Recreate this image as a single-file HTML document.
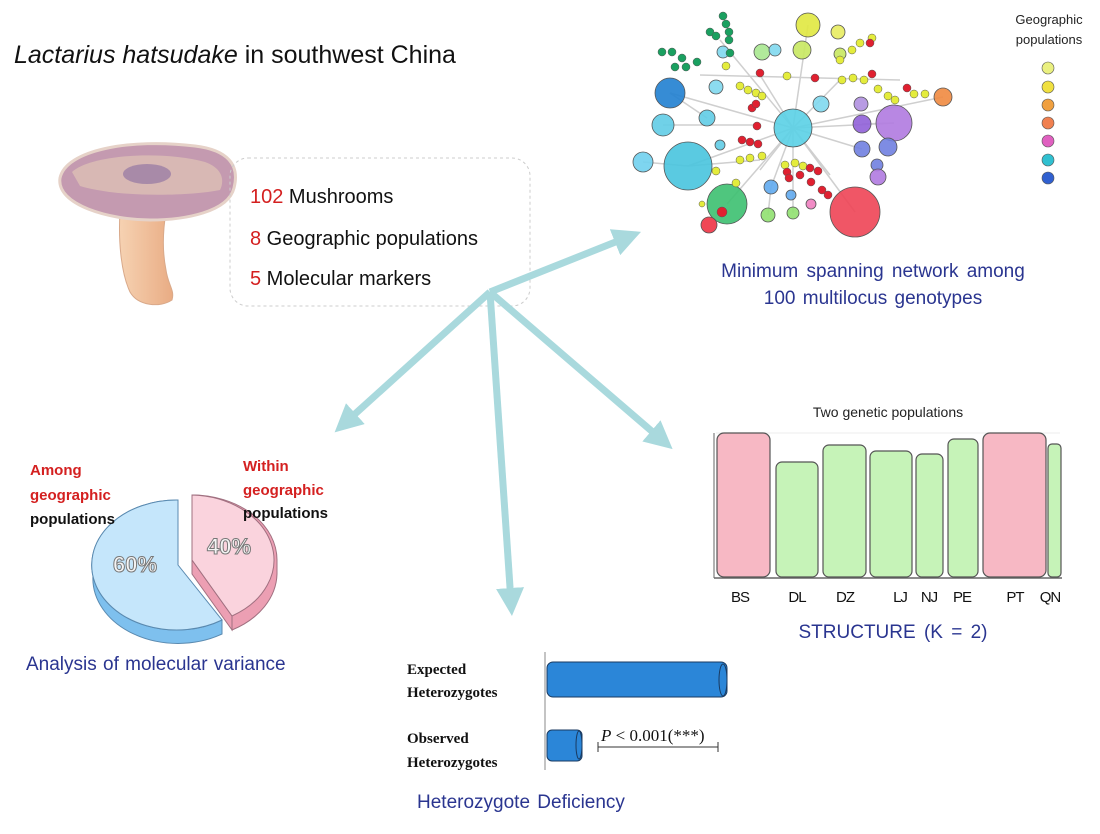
<!DOCTYPE html>
<html><head><meta charset="utf-8"><style>
body{margin:0;background:#fff;width:1100px;height:834px;overflow:hidden}
svg{display:block}
.sans{font-family:"Liberation Sans",sans-serif}
.serif{font-family:"Liberation Serif",serif}
</style></head><body>
<svg width="1100" height="834" viewBox="0 0 1100 834" xmlns="http://www.w3.org/2000/svg" class="sans">
<defs>
<marker id="ah" markerWidth="4" markerHeight="4" refX="2" refY="2" orient="auto" markerUnits="strokeWidth">
<path d="M0,0 L4,2 L0,4 z" fill="#a9d9dd"/></marker>
<linearGradient id="stem" x1="0" x2="1"><stop offset="0" stop-color="#f6d2b2"/><stop offset="1" stop-color="#e9ac84"/></linearGradient>
</defs>

<text x="14" y="63" font-size="25" fill="#111"><tspan font-style="italic">Lactarius hatsudake</tspan> in southwest China</text>

<!-- mushroom -->
<path d="M120,212 C118,245 122,275 130,292 C138,306 160,308 172,300 C175,290 168,285 166,270 C162,250 163,230 166,212 Z" fill="url(#stem)" stroke="#d9a98a"/>
<path d="M60,178 C66,150 130,138 195,146 C228,150 240,165 234,188 C228,212 185,220 150,220 C110,220 56,205 60,178 Z" fill="#c49ab0" stroke="#e6d2c8" stroke-width="3"/>
<path d="M72,172 C90,155 160,150 205,162 C222,168 225,180 220,190 C190,196 120,198 80,186 Z" fill="#d8b8b4"/>
<ellipse cx="147" cy="174" rx="24" ry="10" fill="#a88aa8"/>

<rect x="230" y="158" width="300" height="148" rx="18" fill="none" stroke="#ccc" stroke-dasharray="3,3"/>
<text x="250" y="203" font-size="20" fill="#111"><tspan fill="#d42020">102</tspan> Mushrooms</text>
<text x="250" y="245" font-size="20" fill="#111"><tspan fill="#d42020">8</tspan> Geographic populations</text>
<text x="250" y="285" font-size="20" fill="#111"><tspan fill="#d42020">5</tspan> Molecular markers</text>

<g stroke="#a9d9dd" stroke-width="7" fill="none" marker-end="url(#ah)">
<line x1="490" y1="292" x2="628" y2="237"/>
<line x1="490" y1="292" x2="345" y2="423"/>
<line x1="490" y1="292" x2="662" y2="440"/>
<line x1="490" y1="292" x2="511" y2="602"/>
</g>

<!-- network -->
<g stroke="#cfcfcf" stroke-width="1.5">
<line x1="793" y1="128" x2="688" y2="166"/><line x1="793" y1="128" x2="727" y2="204"/>
<line x1="793" y1="128" x2="855" y2="212"/><line x1="793" y1="128" x2="894" y2="123"/>
<line x1="793" y1="128" x2="808" y2="25"/><line x1="793" y1="128" x2="670" y2="93"/>
<line x1="793" y1="128" x2="760" y2="75"/><line x1="793" y1="128" x2="840" y2="80"/>
<line x1="793" y1="128" x2="760" y2="170"/><line x1="793" y1="128" x2="830" y2="175"/>
<line x1="663" y1="125" x2="760" y2="125"/><line x1="700" y1="75" x2="900" y2="80"/>
<line x1="643" y1="162" x2="688" y2="166"/><line x1="688" y1="166" x2="760" y2="160"/>
<line x1="793" y1="128" x2="943" y2="97"/><line x1="793" y1="128" x2="720" y2="40"/>
<line x1="793" y1="128" x2="771" y2="187"/><line x1="793" y1="128" x2="793" y2="213"/>
<line x1="793" y1="128" x2="862" y2="149"/><line x1="862" y1="124" x2="894" y2="123"/>
<line x1="707" y1="118" x2="670" y2="93"/><line x1="768" y1="215" x2="771" y2="187"/>
</g>
<g stroke="#555" stroke-width="0.8" fill-opacity="0.9">
<circle cx="688" cy="166" r="24" fill="#48c4de"/>
<circle cx="855" cy="212" r="25" fill="#ee4455"/>
<circle cx="727" cy="204" r="20" fill="#3cc070"/>
<circle cx="793" cy="128" r="19" fill="#5ad0e6"/>
<circle cx="894" cy="123" r="18" fill="#b07ae0"/>
<circle cx="670" cy="93" r="15" fill="#2080d0"/>
<circle cx="808" cy="25" r="12" fill="#e0e840"/>
<circle cx="943" cy="97" r="9" fill="#f08a40"/>
<circle cx="663" cy="125" r="11" fill="#60cce6"/>
<circle cx="643" cy="162" r="10" fill="#70d0ee"/>
<circle cx="768" cy="215" r="7" fill="#90e070"/>
<circle cx="793" cy="213" r="6" fill="#90e070"/>
<circle cx="709" cy="225" r="8" fill="#ee3344"/>
<circle cx="762" cy="52" r="8" fill="#a8e890"/>
<circle cx="802" cy="50" r="9" fill="#c8e860"/>
<circle cx="840" cy="54" r="6" fill="#c8e860"/>
<circle cx="838" cy="32" r="7" fill="#e8ec60"/>
<circle cx="723" cy="52" r="6" fill="#80d8ee"/>
<circle cx="775" cy="50" r="6" fill="#80d8ee"/>
<circle cx="707" cy="118" r="8" fill="#60cce6"/>
<circle cx="716" cy="87" r="7" fill="#80d8ee"/>
<circle cx="821" cy="104" r="8" fill="#80d8ee"/>
<circle cx="862" cy="124" r="9" fill="#9060d8"/>
<circle cx="862" cy="149" r="8" fill="#7080e0"/>
<circle cx="888" cy="147" r="9" fill="#7080e0"/>
<circle cx="877" cy="165" r="6" fill="#7080e0"/>
<circle cx="878" cy="177" r="8" fill="#b07ae0"/>
<circle cx="861" cy="104" r="7" fill="#b090e0"/>
<circle cx="771" cy="187" r="7" fill="#60aaee"/>
<circle cx="791" cy="195" r="5" fill="#60aaee"/>
<circle cx="811" cy="204" r="5" fill="#f080c0"/>
<circle cx="720" cy="145" r="5" fill="#60cce6"/>
</g>
<g fill="#1aa060" stroke="#555" stroke-width="0.5">
<circle cx="723" cy="16" r="4"/><circle cx="726" cy="24" r="4"/><circle cx="729" cy="32" r="4"/><circle cx="729" cy="40" r="4"/><circle cx="710" cy="32" r="4"/><circle cx="716" cy="36" r="4"/><circle cx="662" cy="52" r="4"/><circle cx="672" cy="52" r="4"/><circle cx="682" cy="58" r="4"/><circle cx="675" cy="67" r="4"/><circle cx="686" cy="67" r="4"/><circle cx="697" cy="62" r="4"/><circle cx="730" cy="53" r="4"/>
</g>
<g fill="#e4ec3c" stroke="#555" stroke-width="0.5">
<circle cx="726" cy="66" r="4"/><circle cx="787" cy="76" r="4"/><circle cx="740" cy="86" r="4"/><circle cx="748" cy="90" r="4"/><circle cx="756" cy="93" r="4"/><circle cx="762" cy="96" r="4"/><circle cx="740" cy="160" r="4"/><circle cx="750" cy="158" r="4"/><circle cx="762" cy="156" r="4"/><circle cx="785" cy="165" r="4"/><circle cx="795" cy="163" r="4"/><circle cx="803" cy="166" r="4"/><circle cx="840" cy="60" r="4"/><circle cx="852" cy="50" r="4"/><circle cx="860" cy="43" r="4"/><circle cx="872" cy="38" r="4"/><circle cx="842" cy="80" r="4"/><circle cx="853" cy="78" r="4"/><circle cx="864" cy="80" r="4"/><circle cx="878" cy="89" r="4"/><circle cx="888" cy="96" r="4"/><circle cx="895" cy="100" r="4"/><circle cx="914" cy="94" r="4"/><circle cx="925" cy="94" r="4"/><circle cx="716" cy="171" r="4"/><circle cx="736" cy="183" r="4"/><circle cx="702" cy="204" r="3"/>
</g>
<g fill="#e02030" stroke="#555" stroke-width="0.5">
<circle cx="760" cy="73" r="4"/><circle cx="815" cy="78" r="4"/><circle cx="870" cy="43" r="4"/><circle cx="872" cy="74" r="4"/><circle cx="907" cy="88" r="4"/><circle cx="752" cy="108" r="4"/><circle cx="756" cy="104" r="4"/><circle cx="757" cy="126" r="4"/><circle cx="742" cy="140" r="4"/><circle cx="750" cy="142" r="4"/><circle cx="758" cy="144" r="4"/><circle cx="787" cy="172" r="4"/><circle cx="789" cy="178" r="4"/><circle cx="800" cy="175" r="4"/><circle cx="810" cy="168" r="4"/><circle cx="818" cy="171" r="4"/><circle cx="811" cy="182" r="4"/><circle cx="822" cy="190" r="4"/><circle cx="828" cy="195" r="4"/><circle cx="722" cy="212" r="5"/>
</g>
<text x="1049" y="24" font-size="13" fill="#222" text-anchor="middle">Geographic</text>
<text x="1049" y="44" font-size="13" fill="#222" text-anchor="middle">populations</text>
<g stroke="#555" stroke-width="0.6">
<circle cx="1048" cy="68" r="6" fill="#eaf080"/><circle cx="1048" cy="87" r="6" fill="#f0e040"/><circle cx="1048" cy="105" r="6" fill="#f0a040"/><circle cx="1048" cy="123" r="6" fill="#f08050"/><circle cx="1048" cy="141" r="6" fill="#e060c0"/><circle cx="1048" cy="160" r="6" fill="#30c0d0"/><circle cx="1048" cy="178" r="6" fill="#3060d0"/>
</g>
<text x="873" y="277" font-size="19" fill="#2a3590" text-anchor="middle" word-spacing="3">Minimum spanning network among</text>
<text x="873" y="304" font-size="19" fill="#2a3590" text-anchor="middle" word-spacing="2">100 multilocus genotypes</text>

<!-- pie -->
<path d="M178,565 L178,500 A85,65 0 1 0 222,620 L222,634 A85,65 0 0 1 93,575 L93,565 Z" fill="#7ec0ee" stroke="#5a8ab0"/>
<path d="M178,565 L178,500 A85,65 0 1 0 222,620 Z" fill="#c5e6fb" stroke="#5a8ab0"/>
<path d="M192,560 L192,495 A85,65 0 0 1 232,616 L232,630 L192,574 Z" fill="#ec9fb3" stroke="#a07080"/>
<path d="M192,560 L192,495 A85,65 0 0 1 277,560 L277,574 A85,65 0 0 1 232,630 L232,616 Z" fill="#ec9fb3" stroke="#a07080"/>
<path d="M192,560 L192,495 A85,65 0 0 1 232,616 Z" fill="#fad3dd" stroke="#a07080"/>
<text x="113" y="572" font-size="22" font-weight="bold" fill="#f4f4f4" stroke="#777" stroke-width="1">60%</text>
<text x="207" y="554" font-size="22" font-weight="bold" fill="#f4f4f4" stroke="#777" stroke-width="1">40%</text>
<g font-size="15" font-weight="bold">
<text x="30" y="475" fill="#d42020">Among</text>
<text x="30" y="500" fill="#d42020">geographic</text>
<text x="30" y="524" fill="#111">populations</text>
<text x="243" y="471" fill="#d42020">Within</text>
<text x="243" y="495" fill="#d42020">geographic</text>
<text x="243" y="518" fill="#111">populations</text>
</g>
<text x="26" y="670" font-size="19" fill="#2a3590" word-spacing="1">Analysis of molecular variance</text>

<!-- structure -->
<text x="888" y="417" font-size="14" fill="#222" text-anchor="middle">Two genetic populations</text>
<line x1="716" y1="433" x2="1060" y2="433" stroke="#eee"/>
<line x1="714" y1="433" x2="714" y2="578" stroke="#666"/>
<line x1="714" y1="578" x2="1062" y2="578" stroke="#666" stroke-width="1.5"/>
<g stroke="#555" stroke-width="1.2">
<rect x="717" y="433" width="53" height="144" rx="7" fill="#f7b8c4"/>
<rect x="776" y="462" width="42" height="115" rx="6" fill="#c6f3b8"/>
<rect x="823" y="445" width="43" height="132" rx="6" fill="#c6f3b8"/>
<rect x="870" y="451" width="42" height="126" rx="6" fill="#c6f3b8"/>
<rect x="916" y="454" width="27" height="123" rx="6" fill="#c6f3b8"/>
<rect x="948" y="439" width="30" height="138" rx="6" fill="#c6f3b8"/>
<rect x="983" y="433" width="63" height="144" rx="7" fill="#f7b8c4"/>
<rect x="1048" y="444" width="13" height="133" rx="4" fill="#c6f3b8"/>
</g>
<g font-size="15" fill="#111" text-anchor="middle" letter-spacing="-1">
<text x="740" y="602">BS</text><text x="797" y="602">DL</text><text x="845" y="602">DZ</text><text x="900" y="602">LJ</text><text x="929" y="602">NJ</text><text x="962" y="602">PE</text><text x="1015" y="602">PT</text><text x="1050" y="602">QN</text>
</g>
<text x="893" y="638" font-size="19" fill="#2a3590" text-anchor="middle" word-spacing="3">STRUCTURE (K = 2)</text>

<!-- heterozygote -->
<line x1="545" y1="652" x2="545" y2="770" stroke="#888"/>
<rect x="547" y="662" width="180" height="35" rx="6" fill="#2b86d8" stroke="#1a3a60"/>
<ellipse cx="723" cy="680" rx="4" ry="16" fill="none" stroke="#1a3a60"/>
<rect x="547" y="730" width="35" height="31" rx="5" fill="#2b86d8" stroke="#1a3a60"/>
<ellipse cx="579" cy="745" rx="3" ry="14" fill="none" stroke="#1a3a60"/>
<g font-weight="bold" font-size="15" fill="#111" style="font-family:'Liberation Serif',serif">
<text x="407" y="674" style="font-family:'Liberation Serif',serif">Expected</text>
<text x="407" y="697" style="font-family:'Liberation Serif',serif">Heterozygotes</text>
<text x="407" y="743" style="font-family:'Liberation Serif',serif">Observed</text>
<text x="407" y="767" style="font-family:'Liberation Serif',serif">Heterozygotes</text>
</g>
<text x="601" y="741" font-size="17" fill="#111" style="font-family:'Liberation Serif',serif"><tspan font-style="italic">P</tspan> &lt; 0.001(***)</text>
<path d="M598,742 V752 M598,747 H718 M718,742 V752" stroke="#333" fill="none"/>
<text x="417" y="808" font-size="19" fill="#2a3590" word-spacing="2">Heterozygote Deficiency</text>
</svg>
</body></html>
